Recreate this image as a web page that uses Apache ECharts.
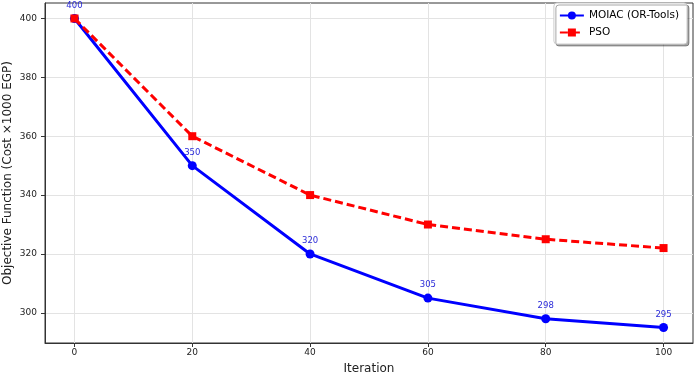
<!DOCTYPE html>
<html>
<head>
<meta charset="utf-8">
<script src="https://cdn.jsdelivr.net/npm/echarts@6/dist/echarts.min.js"></script>
<style>
  html, body { margin: 0; padding: 0; background: #fff; }
  #chart { width: 695px; height: 376px; }
</style>
</head>
<body>
<div id="chart"></div>
<script>
// iterations and objective values
var iterations = [0, 20, 40, 60, 80, 100];
var moiacValues = [400, 350, 320, 305, 298, 295];
var psoValues = [400, 360, 340, 330, 325, 322];
var xTicks = [0, 20, 40, 60, 80, 100];
var yTicks = [300, 320, 340, 360, 380, 400];

var font = 'DejaVu Sans';

function pairs(xs, ys) {
    var out = [];
    for (var i = 0; i < xs.length; i++) {
        out.push([xs[i], ys[i]]);
    }
    return out;
}

var myChart = echarts.init(document.getElementById('chart'));
var option = {
    animation: false,
    textStyle: { fontFamily: font },
    grid: {
        left: 45,
        right: 2,
        top: 3,
        bottom: 33,
        outerBoundsMode: 'none',
        containLabel: false,
        show: true,
        borderColor: '#333',
        borderWidth: 1,
        backgroundColor: 'transparent'
    },
    legend: {
        right: 8,
        top: 3,
        orient: 'vertical',
        itemGap: 6,
        itemWidth: 24,
        itemHeight: 10,
        padding: [7, 8, 6, 5],
        backgroundColor: '#fff',
        borderColor: '#ccc',
        borderWidth: 1,
        borderRadius: 3,
        shadowColor: 'rgba(0,0,0,0.35)',
        shadowOffsetX: 2,
        shadowOffsetY: 2,
        shadowBlur: 0,
        textStyle: { fontFamily: font, fontSize: 10.5, color: '#000' },
        data: ['MOIAC (OR-Tools)', 'PSO']
    },
    xAxis: {
        type: 'value',
        min: -5,
        max: 105,
        name: 'Iteration',
        nameLocation: 'middle',
        nameGap: 20,
        nameTextStyle: { fontFamily: font, fontSize: 12, color: '#222' },
        axisLine: { show: true, onZero: false, lineStyle: { color: '#333' } },
        axisTick: { show: true, length: 4, customValues: xTicks, lineStyle: { color: '#333' } },
        axisLabel: { customValues: xTicks, fontSize: 9, color: '#222', margin: 5, fontFamily: font },
        splitLine: { show: true, lineStyle: { color: '#e3e3e3', width: 1 } }
    },
    yAxis: {
        type: 'value',
        min: 289.75,
        max: 405.25,
        name: 'Objective Function (Cost \u00d71000 EGP)',
        nameLocation: 'middle',
        nameGap: 31,
        nameMoveOverlap: false,
        nameTextStyle: { fontFamily: font, fontSize: 12, color: '#222' },
        axisLine: { show: true, onZero: false, lineStyle: { color: '#333' } },
        axisTick: { show: true, length: 4, customValues: yTicks, lineStyle: { color: '#333' } },
        axisLabel: { customValues: yTicks, fontSize: 9, color: '#222', margin: 8, fontFamily: font },
        splitLine: { show: true, lineStyle: { color: '#e3e3e3', width: 1 } }
    },
    series: [
        {
            name: 'MOIAC (OR-Tools)',
            type: 'line',
            data: pairs(iterations, moiacValues),
            symbol: 'circle',
            symbolSize: 9,
            color: '#0000ff',
            lineStyle: { width: 3, color: '#0000ff' },
            itemStyle: { color: '#0000ff' },
            label: {
                show: true,
                position: 'top',
                distance: 4,
                fontSize: 8.5,
                color: '#2a2ad8',
                fontFamily: font,
                formatter: function (p) { return p.value[1]; }
            },
            z: 2
        },
        {
            name: 'PSO',
            type: 'line',
            data: pairs(iterations, psoValues),
            symbol: 'rect',
            symbolSize: 8,
            color: '#ff0000',
            lineStyle: { width: 3, color: '#ff0000', type: [8, 4] },
            itemStyle: { color: '#ff0000' },
            z: 3
        }
    ]
};
myChart.setOption(option);
</script>
</body>
</html>
